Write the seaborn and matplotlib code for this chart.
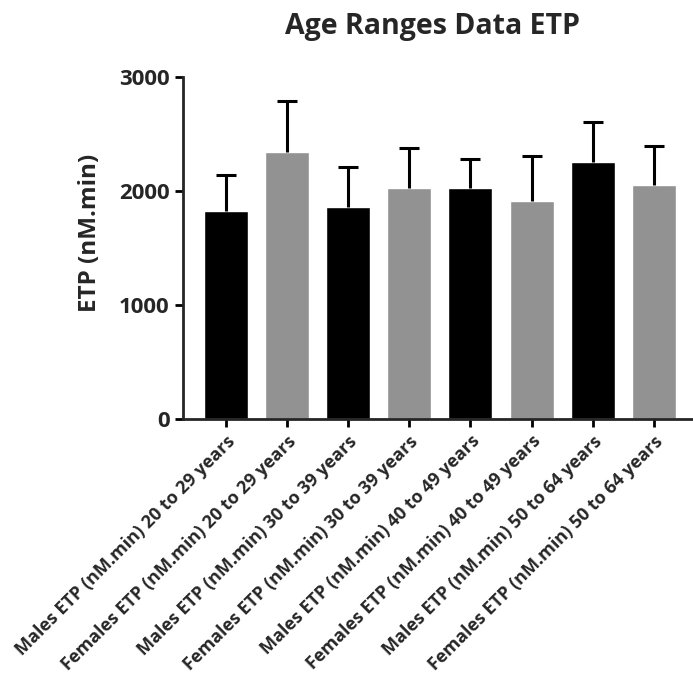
import pandas as pd
import matplotlib.pyplot as plt
import seaborn as sns

labels = [
    "Males ETP (nM.min) 20 to 29 years",
    "Females ETP (nM.min) 20 to 29 years",
    "Males ETP (nM.min) 30 to 39 years",
    "Females ETP (nM.min) 30 to 39 years",
    "Males ETP (nM.min) 40 to 49 years",
    "Females ETP (nM.min) 40 to 49 years",
    "Males ETP (nM.min) 50 to 64 years",
    "Females ETP (nM.min) 50 to 64 years",
]
means = [1825, 2342, 1860, 2026, 2026, 1912, 2254, 2053]
upper = [2140, 2789, 2210, 2377, 2281, 2307, 2605, 2395]
sd = [u - m for u, m in zip(upper, means)]
bar_colors = ["#000000", "#929292"] * 4


def main():
    df = pd.DataFrame({"group": labels, "etp": means, "sd": sd})

    sns.set_style("ticks")
    plt.rcParams["font.family"] = ["Open Sans", "DejaVu Sans"]
    plt.rcParams["font.weight"] = "bold"

    fig = plt.figure(figsize=(6.93, 6.84), dpi=100)
    ax = fig.add_axes([0.264, 0.3874, 0.736, 0.5])

    sns.barplot(
        x="group",
        y="etp",
        data=df,
        hue="group",
        palette=bar_colors,
        legend=False,
        errorbar=None,
        width=0.72,
        saturation=1,
        ax=ax,
    )

    # only upper error bars, like the original
    _, caps, _ = ax.errorbar(
        range(len(df)),
        df["etp"],
        yerr=[[0] * len(df), df["sd"]],
        fmt="none",
        ecolor="black",
        elinewidth=2.2,
        capsize=7.5,
        capthick=2.2,
    )
    caps[0].set_visible(False)

    ax.set_ylim(0, 3000)
    ax.set_yticks([0, 1000, 2000, 3000])
    ax.set_xlim(-0.70, 7.64)
    ax.set_xlabel("")
    ax.set_ylabel("ETP (nM.min)", fontsize=17.5, fontweight="bold")
    ax.yaxis.set_label_coords(-0.158, 0.544)
    ax.set_title("Age Ranges Data ETP", fontsize=20.5, fontweight="bold", pad=31, x=0.49)

    sns.despine(ax=ax)
    for side in ["left", "bottom"]:
        ax.spines[side].set_linewidth(2)
    ax.tick_params(axis="both", width=2, length=6, color="black")
    ax.tick_params(axis="y", labelsize=16)
    ax.tick_params(axis="x", labelsize=13)
    plt.setp(ax.get_xticklabels(), rotation=45, ha="right", rotation_mode="anchor", fontweight="bold")
    plt.setp(ax.get_yticklabels(), fontweight="bold")

    fig.savefig("out.png", dpi=100)


if __name__ == "__main__":
    main()
